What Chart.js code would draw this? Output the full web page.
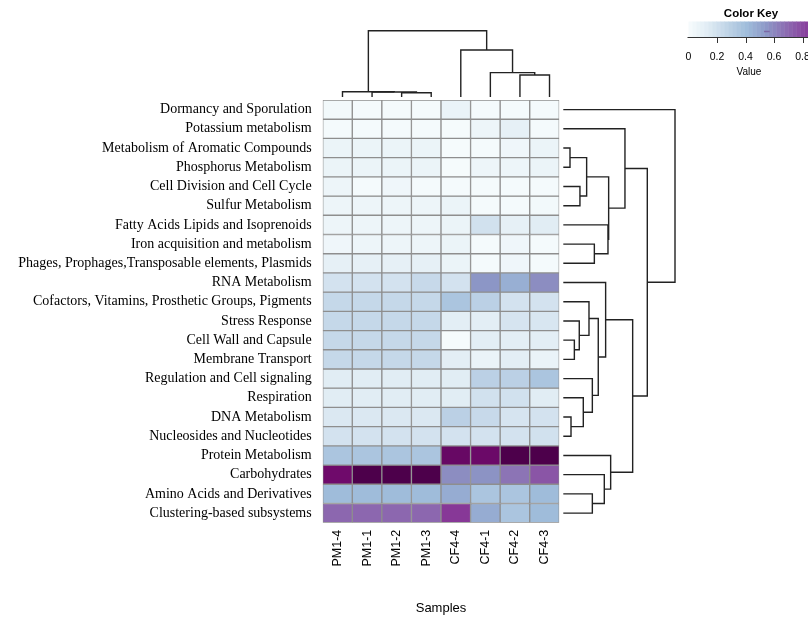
<!DOCTYPE html>
<html>
<head>
<meta charset="utf-8">
<script src="https://cdn.jsdelivr.net/npm/chart.js@4.4.1/dist/chart.umd.min.js"></script>
<style>
  html, body { margin: 0; padding: 0; background: #fff; }
</style>
</head>
<body>
<canvas id="heat" width="808" height="619"></canvas>
<script>
// samples (columns) in dendrogram order
const samples = ["PM1-4", "PM1-1", "PM1-2", "PM1-3", "CF4-4", "CF4-1", "CF4-2", "CF4-3"];

// subsystems (rows) in dendrogram order
const subsystems = [
  "Dormancy and Sporulation",
  "Potassium metabolism",
  "Metabolism of Aromatic Compounds",
  "Phosphorus Metabolism",
  "Cell Division and Cell Cycle",
  "Sulfur Metabolism",
  "Fatty Acids Lipids and Isoprenoids",
  "Iron acquisition and metabolism",
  "Phages, Prophages,Transposable elements, Plasmids",
  "RNA Metabolism",
  "Cofactors, Vitamins, Prosthetic Groups, Pigments",
  "Stress Response",
  "Cell Wall and Capsule",
  "Membrane Transport",
  "Regulation and Cell signaling",
  "Respiration",
  "DNA Metabolism",
  "Nucleosides and Nucleotides",
  "Protein Metabolism",
  "Carbohydrates",
  "Amino Acids and Derivatives",
  "Clustering-based subsystems"
];

// values per sample, one per subsystem (estimated from the colours)
const pm14 = [0.03, 0.02, 0.07, 0.07, 0.06, 0.06, 0.06, 0.05, 0.10, 0.19, 0.25, 0.25, 0.25, 0.25, 0.13, 0.13, 0.16, 0.19, 0.36, 1.01, 0.41, 0.70];
const pm11 = [0.02, 0.02, 0.07, 0.07, 0.02, 0.06, 0.06, 0.06, 0.10, 0.19, 0.25, 0.25, 0.25, 0.25, 0.13, 0.13, 0.16, 0.19, 0.36, 1.10, 0.41, 0.70];
const pm12 = [0.02, 0.02, 0.07, 0.07, 0.05, 0.06, 0.06, 0.06, 0.10, 0.19, 0.25, 0.25, 0.25, 0.25, 0.13, 0.13, 0.16, 0.19, 0.36, 1.10, 0.41, 0.70];
const pm13 = [0.02, 0.02, 0.07, 0.07, 0.02, 0.06, 0.06, 0.06, 0.10, 0.24, 0.25, 0.25, 0.25, 0.25, 0.13, 0.13, 0.16, 0.19, 0.36, 1.10, 0.41, 0.70];
const cf44 = [0.08, 0.01, 0.01, 0.01, 0.02, 0.07, 0.07, 0.07, 0.07, 0.19, 0.36, 0.12, 0.01, 0.12, 0.13, 0.13, 0.29, 0.19, 1.03, 0.58, 0.47, 0.85];
const cf41 = [0.02, 0.06, 0.02, 0.06, 0.02, 0.02, 0.20, 0.02, 0.02, 0.55, 0.29, 0.12, 0.12, 0.08, 0.29, 0.20, 0.24, 0.19, 1.02, 0.56, 0.36, 0.47];
const cf42 = [0.02, 0.10, 0.05, 0.06, 0.02, 0.02, 0.10, 0.05, 0.05, 0.46, 0.19, 0.18, 0.12, 0.12, 0.29, 0.20, 0.18, 0.19, 1.10, 0.66, 0.36, 0.36];
const cf43 = [0.02, 0.02, 0.07, 0.07, 0.02, 0.03, 0.13, 0.02, 0.02, 0.58, 0.19, 0.17, 0.12, 0.08, 0.36, 0.13, 0.19, 0.20, 1.10, 0.76, 0.41, 0.41];
const sampleValues = [pm14, pm11, pm12, pm13, cf44, cf41, cf42, cf43];

// color key
const keyTicks = [0, 0.2, 0.4, 0.6, 0.8];
const keyMax = 0.9;
const vmax = 1.1;

// dendrograms: [height, left, right], leaves are indexes
const colTree = [1.0, [0.080, 0, [0.075, 1, [0.065, 2, 3]]], [0.709, 4, [0.367, 5, [0.332, 6, 7]]]];
const rowTree = [1.0, 0,
  [0.752,
    [0.552, 1, [0.406, [0.209, [0.060, 2, 3], [0.149, 4, 5]], [0.400, 6, [0.278, 7, 8]]]],
    [0.621,
      [0.379, 9, [0.313, [0.230, 10, [0.143, 11, [0.099, 12, 13]]], [0.260, 14, [0.179, 15, [0.069, 16, 17]]]]],
      [0.424, 18, [0.367, 19, [0.260, 20, 21]]]]]];

const bupu = ["#f7fcfd", "#e0ecf4", "#bfd3e6", "#9ebcda", "#8c96c6", "#8c6bb1", "#88419d", "#810f7c", "#4d004b"];

function hexRgb(h) {
  return [1, 3, 5].map(i => parseInt(h.substr(i, 2), 16));
}

function heatColor(v) {
  let f = Math.max(0, Math.min(1, v / vmax)) * (bupu.length - 1);
  const i = Math.min(Math.floor(f), bupu.length - 2);
  const t = f - i;
  const a = hexRgb(bupu[i]), b = hexRgb(bupu[i + 1]);
  const c = a.map((x, k) => Math.round(x + (b[k] - x) * t));
  return `rgb(${c[0]}, ${c[1]}, ${c[2]})`;
}

// draws a tree; pos(leaf) -> pixel along leaves, lvl(h) -> pixel for height
function drawTree(ctx, node, pos, lvl, horizontal) {
  if (typeof node === "number") return { p: pos(node), h: 0 };
  const [h, l, r] = node;
  const a = drawTree(ctx, l, pos, lvl, horizontal);
  const b = drawTree(ctx, r, pos, lvl, horizontal);
  ctx.beginPath();
  if (horizontal) {
    ctx.moveTo(lvl(a.h), a.p); ctx.lineTo(lvl(h), a.p);
    ctx.lineTo(lvl(h), b.p); ctx.lineTo(lvl(b.h), b.p);
  } else {
    ctx.moveTo(a.p, lvl(a.h)); ctx.lineTo(a.p, lvl(h));
    ctx.lineTo(b.p, lvl(h)); ctx.lineTo(b.p, lvl(b.h));
  }
  ctx.stroke();
  return { p: (a.p + b.p) / 2, h };
}

const extras = {
  id: "extras",
  afterDraw(chart) {
    const { ctx, chartArea, scales } = chart;
    ctx.save();
    ctx.strokeStyle = "#222";
    ctx.lineWidth = 1.4;

    // column dendrogram
    const colBase = chartArea.top - 3;
    drawTree(ctx, colTree,
      i => scales.x.getPixelForValue(i) + 5,
      h => colBase - h * 66.3, false);

    // row dendrogram
    const rowBase = chartArea.right + 4;
    drawTree(ctx, rowTree,
      i => scales.y.getPixelForValue(i + 0.5),
      h => rowBase + h * 111.7, true);

    // color key
    const kx = v => 688.5 + v * 142.5;
    for (let v = 0; v < keyMax; v += 0.028) {
      ctx.fillStyle = heatColor(v + 0.014);
      ctx.fillRect(kx(v), 21.5, kx(v + 0.028) - kx(v) + 0.5, 15.5);
    }
    ctx.strokeStyle = "#7b68a6";
    ctx.lineWidth = 1.5;
    ctx.beginPath();
    ctx.moveTo(kx(0.53), 31.5); ctx.lineTo(kx(0.57), 31.5);
    ctx.stroke();

    ctx.strokeStyle = "#333";
    ctx.lineWidth = 1;
    ctx.beginPath();
    ctx.moveTo(kx(0) - 1, 37.5); ctx.lineTo(808, 37.5);
    keyTicks.slice(1).forEach(t => {
      ctx.moveTo(Math.round(kx(t)) + 0.5, 37.5);
      ctx.lineTo(Math.round(kx(t)) + 0.5, 43);
    });
    ctx.stroke();

    ctx.fillStyle = "#000";
    ctx.textAlign = "center";
    ctx.textBaseline = "middle";
    ctx.font = "10.5px 'Liberation Sans', Arial, sans-serif";
    keyTicks.forEach(t => ctx.fillText(String(t), kx(t), 57.5));
    ctx.font = "10px 'Liberation Sans', Arial, sans-serif";
    ctx.fillText("Value", 749, 72);
    ctx.font = "bold 11.5px 'Liberation Sans', Arial, sans-serif";
    ctx.fillText("Color Key", 751, 14);
    ctx.restore();
  }
};

const datasets = subsystems.map((name, r) => ({
  label: name,
  data: samples.map(() => [r, r + 1]),
  backgroundColor: sampleValues.map(col => heatColor(col[r])),
  borderColor: "#8e8e8e",
  borderWidth: 1,
  borderSkipped: false,
  grouped: false,
  barPercentage: 1,
  categoryPercentage: 1
}));

new Chart(document.getElementById("heat"), {
  type: "bar",
  data: { labels: samples, datasets },
  options: {
    responsive: false,
    animation: false,
    layout: { padding: { top: 100, right: 248.7, bottom: 3, left: 0 } },
    plugins: { legend: { display: false }, tooltip: { enabled: false } },
    scales: {
      x: {
        type: "category",
        offset: true,
        grid: { display: false, drawTicks: false },
        border: { display: false },
        ticks: {
          minRotation: 90, maxRotation: 90, autoSkip: false, padding: 7,
          color: "#000",
          font: { family: "'Liberation Sans', Arial, sans-serif", size: 12.5 }
        },
        title: {
          display: true, text: "Samples", color: "#000",
          padding: { top: 0, bottom: 0 },
          font: { family: "'Liberation Sans', Arial, sans-serif", size: 13 }
        },
        afterFit: s => { s.height = 93.3; }
      },
      y: {
        type: "linear",
        min: 0, max: 22, reverse: true,
        grid: { display: false, drawTicks: false },
        border: { display: false },
        afterBuildTicks: s => { s.ticks = subsystems.map((_, i) => ({ value: i + 0.5 })); },
        ticks: {
          autoSkip: false, padding: 11, color: "#000",
          font: { family: "'Liberation Serif', 'Times New Roman', serif", size: 14 },
          callback: (v, i) => subsystems[i]
        },
        afterFit: s => { s.width = 322.7; }
      }
    }
  },
  plugins: [extras]
});
</script>
</body>
</html>
